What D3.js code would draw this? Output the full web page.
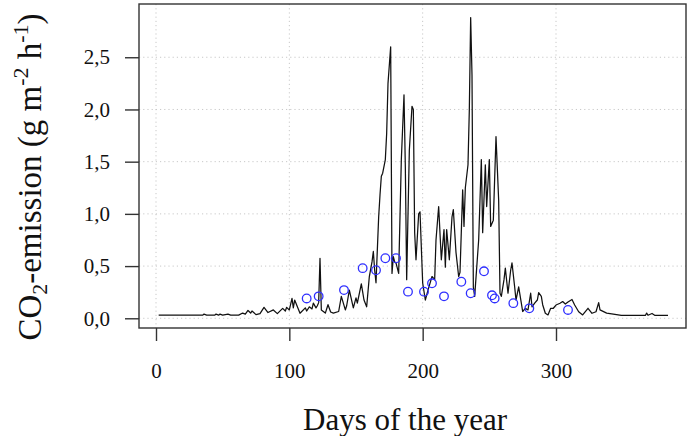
<!DOCTYPE html>
<html>
<head>
<meta charset="utf-8">
<script src="https://cdn.jsdelivr.net/npm/d3@7"></script>
<style>
  html, body { margin: 0; padding: 0; background: #fff; }
  svg { display: block; }
  text { font-family: "Liberation Serif", "Times New Roman", serif; fill: #111; }
</style>
</head>
<body>
<svg id="chart" width="688" height="436"></svg>
<script>
// Modelled daily CO2 emission (g m-2 h-1) by day of year
const days = [2,35,36,38,44,45,47,48,50,54,56,62,65,67,69,71,72,75,78,81,84,88,91,95,97,98,100,102,103,104,108,112,113,115,117,118,120,121,122,123,124,127,129,131,133,137,139,142,143,145,148,150,151,154,156,158,160,162,163,164,165,167,168,169,170,172,173,174,176,177,178,179,180,182,184,186,187,188,190,192,193,194,195,197,198,200,202,204,207,209,210,212,214,216,217,218,220,222,223,225,227,228,230,231,232,234,235,236,237,238,239,242,244,245,247,248,250,251,253,255,257,258,259,261,262,264,266,267,269,270,272,274,275,277,279,281,282,284,286,287,289,290,292,294,296,298,300,303,305,307,309,312,314,317,320,324,327,330,332,333,338,343,349,367,368,369,372,374,384];
const co2 = [0.03,0.03,0.04,0.03,0.03,0.04,0.03,0.04,0.03,0.04,0.03,0.03,0.05,0.04,0.075,0.05,0.07,0.035,0.045,0.105,0.055,0.08,0.045,0.095,0.07,0.105,0.08,0.19,0.1,0.175,0.048,0.1,0.07,0.11,0.09,0.145,0.1,0.12,0.15,0.575,0.08,0.05,0.13,0.06,0.05,0.065,0.21,0.08,0.12,0.27,0.1,0.195,0.145,0.33,0.175,0.11,0.4,0.54,0.64,0.46,0.34,0.97,1.18,1.36,1.39,1.52,1.77,2.25,2.6,0.43,0.59,0.54,0.53,0.43,1.52,2.14,1.45,0.37,1.61,2.03,2.0,0.82,0.56,1.0,1.02,0.34,0.175,0.27,0.4,0.37,0.75,1.07,0.56,0.85,0.49,0.85,0.56,0.97,1.04,0.63,0.4,0.44,1.23,0.88,1.25,1.47,2.0,2.88,2.33,0.3,0.21,0.75,1.52,0.82,1.47,1.07,1.52,0.88,0.94,1.74,1.13,0.24,0.21,0.37,0.48,0.24,0.46,0.53,0.3,0.175,0.3,0.145,0.065,0.095,0.08,0.24,0.11,0.145,0.175,0.245,0.21,0.13,0.048,0.032,0.096,0.096,0.127,0.144,0.16,0.137,0.156,0.18,0.127,0.063,0.032,0.096,0.048,0.063,0.15,0.08,0.05,0.04,0.027,0.027,0.05,0.029,0.046,0.029,0.027];

// Chamber measurements
const obsDays = [113,122,141,155,165,172,180,189,201,207,216,229,236,246,252,254,268,280,309];
const obsCo2 = [0.19,0.21,0.27,0.48,0.46,0.575,0.575,0.255,0.255,0.335,0.21,0.35,0.24,0.45,0.22,0.19,0.145,0.095,0.08];

const xTicks = [0, 100, 200, 300];
const yTicks = [0, 0.5, 1.0, 1.5, 2.0, 2.5];

const svg = d3.select("#chart");
const box = { left: 139, right: 686, top: 4, bottom: 328 };

const x = d3.scaleLinear().domain([-12.75, 397.5]).range([box.left, box.right]);
const y = d3.scaleLinear().domain([-0.093, 3.01]).range([box.bottom, box.top]);

const fmtY = v => d3.format(".1f")(v).replace(".", ",");

// dotted grid
const grid = svg.append("g").attr("stroke", "#c8c8c8").attr("stroke-width", 1).attr("stroke-dasharray", "1.2,3");
grid.selectAll("line.gx").data(xTicks).join("line")
  .attr("x1", d => x(d)).attr("x2", d => x(d))
  .attr("y1", box.top).attr("y2", box.bottom);
grid.selectAll("line.gy").data(yTicks).join("line")
  .attr("x1", box.left).attr("x2", box.right)
  .attr("y1", d => y(d)).attr("y2", d => y(d));

// series line
const line = d3.line().x((d, i) => x(days[i])).y(d => y(d));
svg.append("path").datum(co2)
  .attr("d", line)
  .attr("fill", "none")
  .attr("stroke", "#111")
  .attr("stroke-width", 1.25)
  .attr("stroke-linejoin", "round");

// measured points
svg.append("g").selectAll("circle").data(obsCo2).join("circle")
  .attr("cx", (d, i) => x(obsDays[i]))
  .attr("cy", d => y(d))
  .attr("r", 4.3)
  .attr("fill", "none")
  .attr("stroke", "#2f2fff")
  .attr("stroke-width", 1.3);

// plot frame
svg.append("rect")
  .attr("x", box.left).attr("y", box.top)
  .attr("width", box.right - box.left).attr("height", box.bottom - box.top)
  .attr("fill", "none").attr("stroke", "#333").attr("stroke-width", 1.4);

// y axis
const yAxis = svg.append("g").attr("transform", `translate(${box.left},0)`)
  .call(d3.axisLeft(y).tickValues(yTicks).tickFormat(fmtY).tickSize(14).tickPadding(15));
yAxis.select(".domain").remove();
yAxis.selectAll(".tick line").attr("stroke", "#333").attr("stroke-width", 1.4);
yAxis.selectAll(".tick text").attr("font-size", 21).attr("font-family", "Liberation Serif").attr("fill", "#111");

// x axis
const xAxis = svg.append("g").attr("transform", `translate(0,${box.bottom})`)
  .call(d3.axisBottom(x).tickValues(xTicks).tickFormat(d3.format("d")).tickSize(13).tickPadding(22));
xAxis.select(".domain").remove();
xAxis.selectAll(".tick line").attr("stroke", "#333").attr("stroke-width", 1.4);
xAxis.selectAll(".tick text").attr("font-size", 21).attr("font-family", "Liberation Serif").attr("fill", "#111");

// axis titles
svg.append("text")
  .attr("x", 405).attr("y", 430)
  .attr("text-anchor", "middle")
  .attr("font-size", 31)
  .text("Days of the year");

const yt = svg.append("text")
  .attr("transform", "translate(41,177) rotate(-90)")
  .attr("text-anchor", "middle")
  .attr("font-size", 33);
yt.append("tspan").text("CO");
yt.append("tspan").attr("font-size", 22).attr("dy", 6).text("2");
yt.append("tspan").attr("dy", -6).text("-emission (g m");
yt.append("tspan").attr("font-size", 22).attr("dy", -13).text("-2");
yt.append("tspan").attr("dy", 13).text(" h");
yt.append("tspan").attr("font-size", 22).attr("dy", -13).text("-1");
yt.append("tspan").attr("dy", 13).text(")");
</script>
</body>
</html>
